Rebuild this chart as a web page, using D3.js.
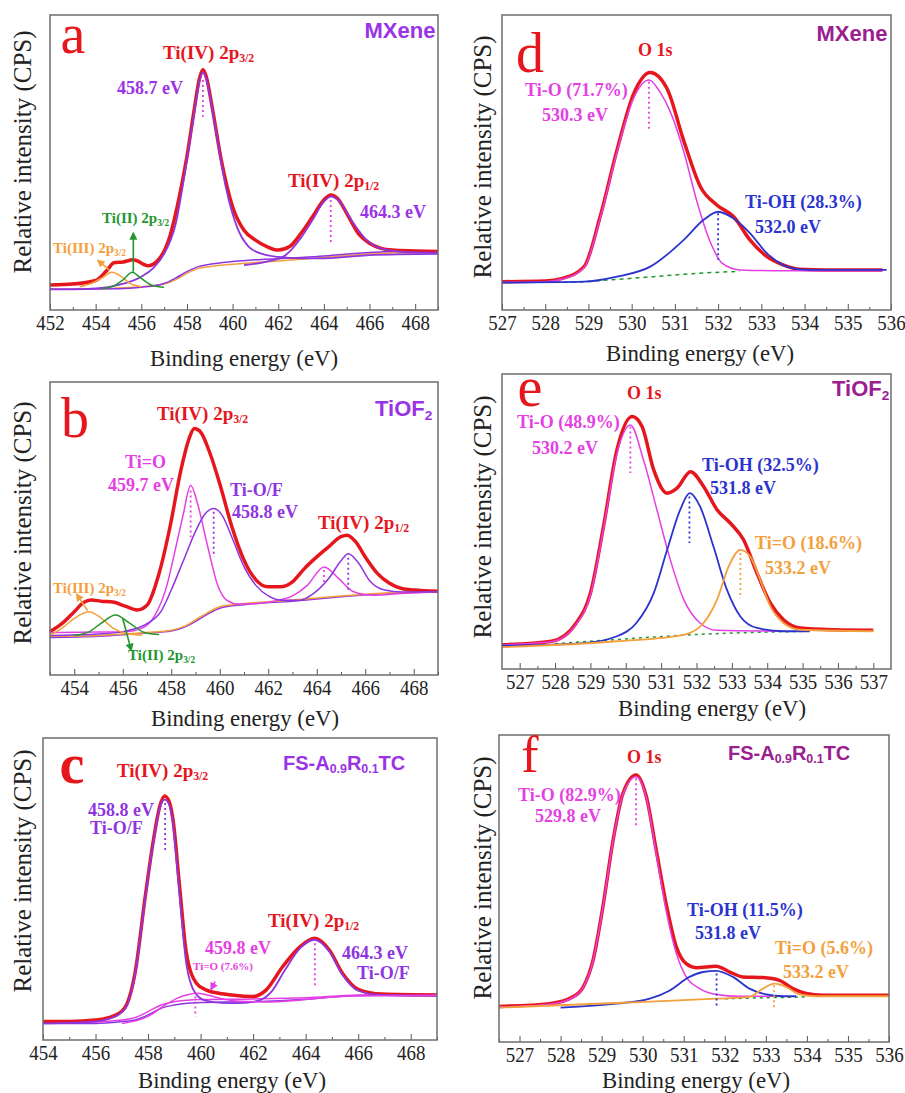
<!DOCTYPE html>
<html>
<head>
<meta charset="utf-8">
<script src="https://cdn.jsdelivr.net/npm/d3@7"></script>
<style>
  body { margin: 0; background: #fff; }
</style>
</head>
<body>
<div id="chart"></div>
<script>
// ---- data (energy in eV, intensity in % of panel height) ----
// panel a: Ti 2p, MXene
var aEnvelope = [[452,8.5],[453,8.8],[454,10],[454.5,13.5],[454.8,16],[455.2,16.3],[455.65,17],[456.3,15],[456.8,17.5],[457.2,23.7],[457.6,36],[458,52],[458.3,67],[458.55,78.5],[458.7,81.4],[458.85,79],[459.1,69],[459.5,51],[460,35],[460.5,27],[461,23.7],[461.5,21.5],[462,20.3],[462.5,21.5],[463,26],[463.5,31.6],[464,37.3],[464.3,39],[464.6,37.8],[465,32.8],[465.5,26],[466,22.6],[466.5,20.9],[467,20.3],[468,20],[469,19.8]];
var aTiIV = [[452,7],[453,7],[454,7.3],[455,8.5],[456,11.3],[456.5,14],[457,19],[457.5,29],[458,51],[458.3,66],[458.55,77.5],[458.7,80.6],[458.85,78.2],[459.2,64],[459.7,41.8],[460.2,28],[460.7,21.5],[461.3,19],[462,18],[463,17.5],[464,17.5],[465,18],[466,18.6],[469,19]];
var aTiIV12 = [[460.5,15.2],[461.5,16.4],[462.3,18.5],[463,24.5],[463.5,30.5],[464,36.7],[464.3,38.4],[464.7,36.7],[465.2,30.5],[465.8,24.3],[466.5,20.9],[467.5,19.7],[469,19.4]];
var aTiIII = [[453.3,7.9],[453.8,9],[454.3,11],[454.7,12.8],[455.1,11.5],[455.5,9],[456,7.9]];
var aTiII = [[454.3,7.3],[454.8,8.2],[455.2,10.2],[455.6,12.8],[456,10.7],[456.5,8.3],[457,7.7]];
var aBgOrange = [[452,7],[454,7.2],[456,7.9],[457,8.8],[457.5,10.2],[458,12.4],[458.5,14.1],[459,14.7],[460,15.5],[461,16.1],[462,16.6],[463,17.2],[464,17.8],[465,18.5],[466,19],[467,19.3],[469,19.3]];
var aBgPurple = [[452,7],[455,7.2],[456,7.7],[457,9],[457.5,10.8],[458,13],[458.5,14.7],[459,15.5],[460,16.4],[461,17],[462,17.4],[463,17.8],[464,18.3],[465,19],[466,19.5],[467,19.8],[469,19.8]];
var aDrops = [[458.7,78,65.5],[464.3,37.3,22.6]];
var aArrows = [[455.65,13,26],[454.6,13.5,454.1,16.8]];
var aMajor = [452,454,456,458,460,462,464,466,468];
var aMinor = [453,455,457,459,461,463,465,467,469];

// panel b: Ti 2p, TiOF2
var bEnvelope = [[453,14.8],[453.5,17.6],[454,21.6],[454.4,24.8],[454.7,25.6],[455.1,25.2],[455.6,24.9],[456.1,23.5],[456.6,22.2],[457,23.8],[457.5,34.7],[457.95,50.6],[458.4,70],[458.75,81],[458.95,84.1],[459.2,83],[459.6,75.6],[460,65.3],[460.5,50.6],[461,39.2],[461.5,32.4],[462,30.1],[462.5,30.1],[463,31.8],[463.5,36.4],[464,40.3],[464.5,43.8],[465,47.2],[465.25,47.7],[465.6,45.5],[466,40.3],[466.5,34.7],[467,31.3],[467.5,29.5],[468,29],[469,28.6]];
var bTiO = [[453,14.5],[455,14.7],[456,14.7],[456.8,16],[457.3,20],[457.8,30],[458.2,44],[458.5,55],[458.8,64.8],[459.1,58],[459.5,44],[459.9,31],[460.3,25.5],[460.8,24.2],[461.5,24.4],[462.3,25.3],[463,27],[463.6,30.5],[464.3,36.9],[464.9,33],[465.5,28.5],[466.3,27.2],[467.5,27.8],[469,28.4]];
var bTiOF = [[453,13.5],[455,14],[456,14.8],[457,17.5],[457.6,22],[458,29],[458.5,39],[459,49],[459.4,55],[459.75,56.8],[460.1,54.5],[460.5,47],[461,37],[461.5,30.5],[462,27],[462.6,25.5],[463.3,25.5],[463.9,28],[464.5,33],[465,39],[465.3,41.4],[465.7,38.5],[466.2,32],[466.8,29],[467.5,28.3],[469,28.4]];
var bTiIII = [[453,13.6],[453.5,16],[454,19.3],[454.6,21.6],[455.1,19.5],[455.6,16],[456.2,14.1],[456.8,13.6]];
var bTiII = [[454,13.5],[454.6,14.7],[455.1,17.6],[455.7,20.5],[456.3,17.6],[456.9,14.5],[457.5,13.8]];
var bBgOrange = [[453,13.2],[455,13.5],[456,14],[457,14.5],[458,15.3],[458.5,16.5],[459,18.8],[459.5,21.3],[460,23.3],[460.5,24],[461,24.4],[462,25],[463,25.6],[464,26.3],[465,27],[466,27.6],[467,28.1],[469,28.4]];
var bBgPurple = [[453,12.8],[455,13.2],[456,13.7],[457,14.3],[458,15],[458.5,16.2],[459,18.3],[459.5,20.8],[460,22.8],[461,24],[463,25.2],[465,26.7],[467,27.9],[469,28.3]];
var bDrops = [[458.8,63,47],[459.75,55.7,40.3],[464.3,35.8,31],[465.3,40,29]];
var bArrows = [[454.55,22,454.1,27.5],[456.0,19.3,456.35,8.5]];
var bMajor = [454,456,458,460,462,464,466,468];
var bMinor = [453,455,457,459,461,463,465,467,469];

// panel c: Ti 2p, FS-A0.9R0.1TC
var cEnvelope = [[454,6.1],[455,6.1],[456,6.6],[456.5,7.4],[457,9.5],[457.2,12],[457.5,22],[457.9,48],[458.2,66],[458.45,77.5],[458.63,80.8],[458.8,79],[458.95,72.9],[459.2,50.8],[459.46,28.7],[459.84,18.8],[460.2,16.6],[460.7,15.5],[461.2,14.9],[462,14.4],[462.5,16.6],[463.1,24],[463.8,31],[464.34,33.7],[464.9,29.8],[465.4,22.1],[466,16.8],[466.9,15.2],[469,14.9]];
var cTiOF = [[454,5.5],[456,6.1],[456.5,7],[457,9.2],[457.2,11.5],[457.5,21.5],[457.9,47.5],[458.2,65.5],[458.45,77],[458.63,79.6],[458.8,78],[458.95,71.5],[459.2,48],[459.46,25],[459.8,15.5],[460.2,13],[460.8,12.3],[461.5,12.2],[462.2,13],[462.7,16],[463.2,23],[463.8,30.5],[464.34,33.2],[464.9,29.3],[465.4,21.6],[466,16.3],[466.9,14.9],[469,14.7]];
var cTiO = [[457,5.5],[457.6,6.5],[458.1,8.3],[458.6,11.3],[459.1,13.8],[459.5,15],[459.85,15.5],[460.3,14.8],[460.9,13.5],[461.5,12.8],[462.5,12.6],[463.5,13],[464.5,13.8],[465.5,14.5],[469,14.8]];
var cBgPurple = [[454,5.5],[456,5.5],[457,6.1],[457.5,6.6],[458,8.3],[458.5,10.5],[459,11.6],[459.5,12.2],[460,12.4],[461,12.6],[462,12.7],[463,13],[464,13.5],[465,14.2],[466,14.7],[467,14.9],[469,14.9]];
var cBgMagenta = [[454,6],[456,6],[457,6.6],[457.5,7.4],[458,9.4],[458.5,11.6],[459,12.7],[459.5,13.2],[460,13.4],[462,13.6],[464,14],[466,14.9],[469,15.1]];
var cDrops = [[458.65,78.5,61.9],[459.8,14.4,7.7],[464.35,32,17.7]];
var cArrows = [[460.55,19.3,460.4,16.8]];
var cMajor = [454,456,458,460,462,464,466,468];
var cMinor = [455,457,459,461,463,465,467,469];

// panel d: O 1s, MXene
var dEnvelope = [[527,9.6],[528,9.8],[528.4,10.7],[528.9,14.7],[529.27,31.6],[529.66,54.2],[530.05,73.4],[530.43,80.5],[530.82,75],[531.2,57.6],[531.59,41.8],[531.97,35.6],[532.36,31.6],[532.74,23.7],[533.13,18.1],[533.5,15.3],[533.9,13.8],[534.5,13.6],[535.8,13.6]];
var dTiO = [[527,9.4],[528,9.6],[528.4,10.5],[528.9,14.4],[529.27,31],[529.66,53.5],[530.05,72],[530.4,78],[530.65,74],[530.9,67],[531.2,54],[531.5,37.3],[531.8,23.7],[532.1,15.8],[532.5,13.6],[533.5,13.3],[535.8,13.3]];
var dTiOH = [[527,9.3],[528.9,9.6],[529.66,11.3],[530.43,14.7],[531.2,23.7],[531.66,30.5],[532,33.3],[532.36,31],[532.74,26],[533.13,19.2],[533.5,15.3],[533.9,13.8],[534.3,13.6],[535.9,13.6]];
var dBg = [[527.5,9.4],[528.5,9.4],[529.5,10.2],[530.5,11.3],[531.5,12.4],[532.5,13.1]];
var dDrops = [[530.4,77.4,61],[532.0,32.8,17]];
var dMajor = [527,528,529,530,531,532,533,534,535,536];
var dMinor = [527.5,528.5,529.5,530.5,531.5,532.5,533.5,534.5,535.5];

// panel e: O 1s, TiOF2
var eEnvelope = [[526.5,8.2],[527.9,9.4],[528.6,15.6],[529,25.7],[529.37,48.3],[529.75,74.3],[530.18,85.6],[530.46,82.2],[530.79,67.5],[531.17,59.6],[531.45,61.3],[531.83,66.9],[532.2,61.9],[532.58,54],[532.96,49.4],[533.33,43.8],[533.71,32.5],[534.09,22.3],[534.46,16.7],[534.94,13.9],[535.9,13.3],[537,13.1]];
var eTiO = [[526.5,8.2],[527.9,9.2],[528.6,15.2],[529,25],[529.37,47.5],[529.75,73],[530.13,82.7],[530.5,70.9],[530.88,54],[531.26,37],[531.64,23.5],[532.1,15.6],[532.58,13.1],[534.5,12.8]];
var eTiOH = [[526.5,7.9],[528.8,8.8],[529.75,11.1],[530.3,15.6],[530.79,25.7],[531.17,40.4],[531.54,54],[531.81,59.6],[532.1,55.1],[532.48,41.5],[532.86,26.9],[533.24,17.8],[533.71,13.9],[534.46,12.8],[535.2,12.8]];
var eTiEqO = [[526.5,7.4],[529.75,9.4],[531.64,11.6],[532.2,15.6],[532.58,23.5],[532.91,34.8],[533.24,40.4],[533.52,38.1],[533.8,30.2],[534.09,21.2],[534.46,15.6],[534.94,13.3],[537,12.8]];
var eBg = [[528,8.6],[530,10.2],[532,11.7],[534,12.5],[535.2,12.8]];
var eDrops = [[530.13,82.2,66.4],[531.8,58.5,42.7],[533.24,39.3,24]];
var eMajor = [527,528,529,530,531,532,533,534,535,536,537];
var eMinor = [527.5,528.5,529.5,530.5,531.5,532.5,533.5,534.5,535.5,536.5];

// panel f: O 1s, FS-A0.9R0.1TC
var fEnvelope = [[526.5,11.6],[527.73,12.5],[528.3,14.7],[528.55,17.9],[528.79,26.6],[529.03,44],[529.28,65.8],[529.52,81],[529.84,87],[530.09,79.9],[530.33,62.5],[530.57,45.1],[530.82,31],[531.06,25.5],[531.3,24.2],[531.79,24.7],[532.12,22.8],[532.44,21.2],[532.93,21],[533.33,20.1],[533.66,17.4],[533.98,15.8],[534.39,15.2],[536,15.2]];
var fTiO = [[526.5,11.4],[527.73,12.3],[528.3,14.5],[528.55,17.7],[528.79,26.4],[529.03,43.8],[529.28,65.6],[529.52,80.6],[529.84,86.4],[530.09,79.5],[530.33,61.4],[530.57,42.9],[530.82,28.8],[531.06,21.2],[531.39,17.4],[531.79,15.5],[532.36,14.9],[533.42,14.9]];
var fTiOH = [[528,11.2],[529.36,12.5],[530.17,14.1],[530.66,16.8],[531.14,21.2],[531.47,22.8],[531.79,23.2],[532.2,21.2],[532.6,17.4],[533.01,15.5],[533.42,14.9],[533.74,14.9]];
var fTiEqO = [[526.5,11.2],[529.36,12.7],[531.79,14.1],[532.6,14.7],[532.93,17.4],[533.21,19],[533.5,17.9],[533.82,15.5],[534.23,14.9],[536,14.9]];
var fBg = [[532,14.1],[533,14.4],[534,14.7]];
var fDrops = [[529.84,85.9,70.1],[531.8,22.3,10.9],[533.2,18.5,10.9]];
var fMajor = [527,528,529,530,531,532,533,534,535,536];
var fMinor = [526.5,527.5,528.5,529.5,530.5,531.5,532.5,533.5,534.5,535.5];

// ---- styles ----
var RED = "#e6161d", PUR = "#8f35df", MAG = "#e53fe4", BLU = "#2b33cf",
    ORG = "#f3a03c", GRN = "#24962f", LPUR = "#9a33e6", DMAG = "#9a2090";
var SERIF = "'Liberation Serif','Times New Roman',serif";
var SANS = "'Liberation Sans',Arial,sans-serif";

var svg = d3.select("#chart").append("svg")
  .attr("width", 905)
  .attr("height", 1093);

var defs = svg.append("defs");
[["arrRed", RED], ["arrOrg", ORG], ["arrGrn", GRN], ["arrMag", MAG]].forEach(function(m) {
  defs.append("marker")
    .attr("id", m[0])
    .attr("viewBox", "0 0 10 10")
    .attr("refX", 8).attr("refY", 5)
    .attr("markerWidth", 5).attr("markerHeight", 5)
    .attr("orient", "auto")
    .append("path")
    .attr("d", "M0,0 L10,5 L0,10 z")
    .attr("fill", m[1]);
});

// text with optional subscripts: parts = ["Ti(IV) 2p", ["3/2"]]
function txt(x, y, parts, o) {
  var tr = `translate(${x},${y})` + (o.rot ? " rotate(-90)" : "") + ` scale(${o.sx || 1},1)`;
  var t = svg.append("text")
    .attr("transform", tr)
    .attr("font-family", o.sans ? SANS : SERIF)
    .attr("font-size", o.size)
    .attr("font-weight", o.bold ? "bold" : "normal")
    .attr("fill", o.color || "#222")
    .attr("text-anchor", o.anchor || "start")
    .attr("dominant-baseline", o.base || "central");
  if (typeof parts === "string") parts = [parts];
  var down = false;
  parts.forEach(function(p) {
    if (Array.isArray(p)) {
      t.append("tspan").attr("font-size", o.size * 0.62).attr("dy", down ? 0 : o.size * 0.3).text(p[0]);
      down = true;
    } else {
      var s = t.append("tspan").text(p);
      if (down) s.attr("dy", -o.size * 0.3);
      down = false;
    }
  });
  return t;
}

function drawPanel(p) {
  var x0 = p.box[0], y0 = p.box[1], w = p.box[2], h = p.box[3];
  var x = d3.scaleLinear().domain(p.dom).range([x0, x0 + w]);
  var y = d3.scaleLinear().domain([0, 100]).range([y0 + h, y0]);
  var g = svg.append("g");

  // axes
  var minor = g.append("g")
    .attr("transform", `translate(0,${y0 + h})`)
    .call(d3.axisBottom(x).tickValues(p.minor).tickSize(-3).tickFormat(""));
  minor.select(".domain").remove();
  minor.selectAll("line").attr("stroke", "#555");

  var major = g.append("g")
    .attr("transform", `translate(0,${y0 + h})`)
    .call(d3.axisBottom(x).tickValues(p.major).tickSizeInner(-6).tickSizeOuter(0)
      .tickPadding(5).tickFormat(d3.format("d")));
  major.select(".domain").remove();
  major.selectAll("line").attr("stroke", "#555");
  major.selectAll("text")
    .attr("font-family", SERIF)
    .attr("font-size", 21)
    .attr("fill", "#222")
    .attr("transform", "scale(0.9,1)");

  var line = d3.line()
    .x(function(d) { return x(d[0]); })
    .y(function(d) { return y(d[1]); })
    .curve(d3.curveMonotoneX);

  p.curves.forEach(function(c) {
    g.append("path")
      .datum(c.data)
      .attr("d", line)
      .attr("fill", "none")
      .attr("stroke", c.color)
      .attr("stroke-width", c.width || 1.5)
      .attr("stroke-dasharray", c.dash || null)
      .attr("stroke-linejoin", "round");
  });

  (p.drops || []).forEach(function(d, i) {
    g.append("line")
      .attr("x1", x(d[0])).attr("x2", x(d[0]))
      .attr("y1", y(d[1])).attr("y2", y(d[2]))
      .attr("stroke", p.dropColors[i])
      .attr("stroke-width", 1.8)
      .attr("stroke-dasharray", "2,3");
  });

  (p.arrows || []).forEach(function(a, i) {
    var ax1, ay1, ax2, ay2;
    if (a.length === 3) { ax1 = a[0]; ay1 = a[1]; ax2 = a[0]; ay2 = a[2]; }
    else { ax1 = a[0]; ay1 = a[1]; ax2 = a[2]; ay2 = a[3]; }
    g.append("line")
      .attr("x1", x(ax1)).attr("y1", y(ay1))
      .attr("x2", x(ax2)).attr("y2", y(ay2))
      .attr("stroke", p.arrowColors[i][0])
      .attr("stroke-width", 1.6)
      .attr("marker-end", `url(#${p.arrowColors[i][1]})`);
  });

  // frame
  g.append("rect")
    .attr("x", x0).attr("y", y0)
    .attr("width", w).attr("height", h)
    .attr("fill", "none")
    .attr("stroke", "#6e6e6e")
    .attr("stroke-width", 1.5);

  txt(p.xt[0], p.xt[1], "Binding energy (eV)", { size: 24, anchor: "middle", sx: 0.95 });
  txt(p.yt[0], p.yt[1], "Relative intensity (CPS)", { size: 25, anchor: "middle", rot: true });

  p.notes.forEach(function(n) { txt(n[0], n[1], n[2], n[3]); });
}

var big = function(c, bold, s) { return { size: s || 56, color: RED, anchor: "middle", base: "alphabetic", bold: !!bold }; };
var hd = function(c) { return { size: 19, bold: true, color: c }; };
var lb = function(c) { return { size: 18, bold: true, color: c }; };
var sm = function(c) { return { size: 15, bold: true, color: c }; };
var tag = function(c, s) { return { size: s || 22, bold: true, sans: true, color: c }; };

var panels = [
  { box: [50, 15, 388, 295], dom: [452, 469], major: aMajor, minor: aMinor,
    curves: [
      { data: aBgOrange, color: ORG }, { data: aBgPurple, color: PUR },
      { data: aEnvelope, color: RED, width: 3.5 },
      { data: aTiIV, color: PUR, width: 1.8 }, { data: aTiIV12, color: PUR, width: 1.8 },
      { data: aTiIII, color: ORG }, { data: aTiII, color: GRN }],
    drops: aDrops, dropColors: [MAG, MAG],
    arrows: aArrows, arrowColors: [[GRN, "arrGrn"], [ORG, "arrOrg"]],
    xt: [244, 358], yt: [22, 152],
    notes: [
      [73, 53, "a", big()],
      [400, 30, "MXene", Object.assign(tag(LPUR), { anchor: "middle" })],
      [163, 52, ["Ti(IV) 2p", ["3/2"]], hd(RED)],
      [117, 88, "458.7 eV", lb(LPUR)],
      [288, 180, ["Ti(IV) 2p", ["1/2"]], hd(RED)],
      [360, 212, "464.3 eV", lb(LPUR)],
      [102, 218, ["Ti(II) 2p", ["3/2"]], sm(GRN)],
      [53, 248, ["Ti(III) 2p", ["3/2"]], sm(ORG)]] },
  { box: [50, 382, 388, 293], dom: [453, 469], major: bMajor, minor: bMinor,
    curves: [
      { data: bBgPurple, color: PUR }, { data: bBgOrange, color: ORG },
      { data: bEnvelope, color: RED, width: 3.5 },
      { data: bTiO, color: MAG }, { data: bTiOF, color: PUR },
      { data: bTiIII, color: ORG }, { data: bTiII, color: GRN }],
    drops: bDrops, dropColors: [MAG, PUR, MAG, PUR],
    arrows: bArrows, arrowColors: [[ORG, "arrOrg"], [GRN, "arrGrn"]],
    xt: [245, 718], yt: [22, 523],
    notes: [
      [75, 437, "b", big()],
      [375, 408, ["TiOF", ["2"]], tag(LPUR)],
      [157, 413, ["Ti(IV) 2p", ["3/2"]], hd(RED)],
      [125, 462, "Ti=O", lb(MAG)],
      [108, 485, "459.7 eV", lb(MAG)],
      [230, 490, "Ti-O/F", lb(PUR)],
      [232, 512, "458.8 eV", lb(PUR)],
      [318, 522, ["Ti(IV) 2p", ["1/2"]], hd(RED)],
      [53, 588, ["Ti(III) 2p", ["3/2"]], sm(ORG)],
      [128, 655, ["Ti(II) 2p", ["3/2"]], sm(GRN)]] },
  { box: [43, 738, 394, 302], dom: [454, 469], major: cMajor, minor: cMinor,
    curves: [
      { data: cBgPurple, color: PUR }, { data: cBgMagenta, color: MAG },
      { data: cEnvelope, color: RED, width: 3.5 },
      { data: cTiOF, color: PUR, width: 1.8 }, { data: cTiO, color: MAG }],
    drops: cDrops, dropColors: [PUR, MAG, MAG],
    arrows: cArrows, arrowColors: [[MAG, "arrMag"]],
    xt: [232, 1080], yt: [22, 871],
    notes: [
      [72, 783, "c", big(RED, true)],
      [283, 763, ["FS-A", ["0.9"], "R", ["0.1"], "TC"], tag(LPUR, 20)],
      [117, 770, ["Ti(IV) 2p", ["3/2"]], hd(RED)],
      [88, 810, "458.8 eV", lb(PUR)],
      [90, 828, "Ti-O/F", lb(PUR)],
      [268, 920, ["Ti(IV) 2p", ["1/2"]], hd(RED)],
      [205, 948, "459.8 eV", lb(MAG)],
      [193, 966, "Ti=O (7.6%)", { size: 11, bold: true, color: MAG }],
      [342, 953, "464.3 eV", lb(PUR)],
      [357, 973, "Ti-O/F", lb(PUR)]] },
  { box: [502, 15, 389, 295], dom: [527, 536], major: dMajor, minor: dMinor,
    curves: [
      { data: dBg, color: GRN, dash: "4,4" },
      { data: dEnvelope, color: RED, width: 3.5 },
      { data: dTiO, color: MAG }, { data: dTiOH, color: BLU, width: 1.8 }],
    drops: dDrops, dropColors: [MAG, BLU],
    xt: [700, 353], yt: [482, 157],
    notes: [
      [530, 72, "d", big()],
      [852, 33, "MXene", Object.assign(tag(DMAG), { anchor: "middle" })],
      [638, 50, "O 1s", lb(RED)],
      [525, 90, "Ti-O (71.7%)", lb(MAG)],
      [542, 115, "530.3 eV", lb(MAG)],
      [745, 202, "Ti-OH (28.3%)", lb(BLU)],
      [755, 227, "532.0 eV", lb(BLU)]] },
  { box: [502, 374, 389, 295], dom: [526.5, 537.5], major: eMajor, minor: eMinor,
    curves: [
      { data: eBg, color: GRN, dash: "3,4" },
      { data: eEnvelope, color: RED, width: 3.5 },
      { data: eTiO, color: MAG }, { data: eTiOH, color: BLU, width: 1.8 },
      { data: eTiEqO, color: ORG, width: 1.8 }],
    drops: eDrops, dropColors: [MAG, BLU, ORG],
    xt: [712, 708], yt: [482, 517],
    notes: [
      [530, 406, "e", big()],
      [832, 388, ["TiOF", ["2"]], tag(DMAG)],
      [627, 393, "O 1s", lb(RED)],
      [517, 422, "Ti-O (48.9%)", lb(MAG)],
      [532, 448, "530.2 eV", lb(MAG)],
      [702, 465, "Ti-OH (32.5%)", lb(BLU)],
      [710, 488, "531.8 eV", lb(BLU)],
      [755, 543, "Ti=O (18.6%)", lb(ORG)],
      [765, 568, "533.2 eV", lb(ORG)]] },
  { box: [499, 735, 390, 307], dom: [526.5, 536], major: fMajor, minor: fMinor,
    curves: [
      { data: fBg, color: GRN, dash: "3,4" },
      { data: fEnvelope, color: RED, width: 3.5 },
      { data: fTiO, color: MAG }, { data: fTiOH, color: BLU, width: 1.8 },
      { data: fTiEqO, color: ORG, width: 1.8 }],
    drops: fDrops, dropColors: [MAG, BLU, ORG],
    xt: [696, 1080], yt: [482, 878],
    notes: [
      [530, 772, "f", big(RED, false, 52)],
      [728, 753, ["FS-A", ["0.9"], "R", ["0.1"], "TC"], tag(DMAG, 20)],
      [627, 757, "O 1s", lb(RED)],
      [518, 795, "Ti-O (82.9%)", lb(MAG)],
      [535, 816, "529.8 eV", lb(MAG)],
      [687, 910, "Ti-OH (11.5%)", lb(BLU)],
      [695, 933, "531.8 eV", lb(BLU)],
      [775, 948, "Ti=O (5.6%)", lb(ORG)],
      [783, 972, "533.2 eV", lb(ORG)]] }
];

panels.forEach(drawPanel);
</script>
</body>
</html>
